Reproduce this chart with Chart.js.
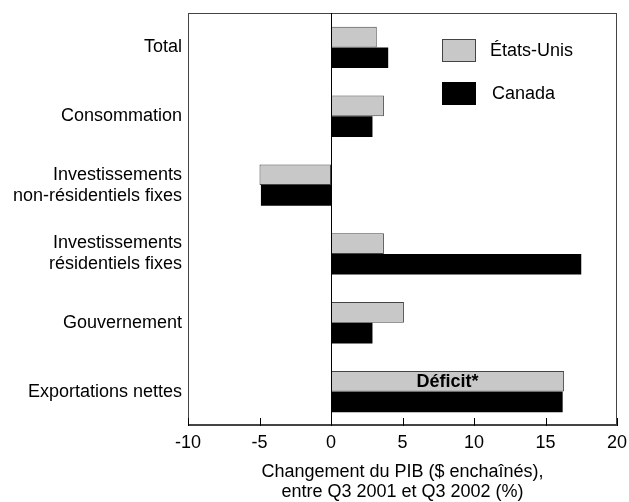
<!DOCTYPE html>
<html>
<head>
<meta charset="utf-8">
<script src="https://cdn.jsdelivr.net/npm/chart.js@4"></script>
<style>
  html, body { margin: 0; padding: 0; background: #fff; }
  #wrap { width: 629px; height: 502px; }
</style>
</head>
<body>
<div id="wrap"><canvas id="myChart"></canvas></div>
<script>
// Données
const categories = [
  'Total',
  'Consommation',
  ['Investissements', 'non-résidentiels fixes'],
  ['Investissements', 'résidentiels fixes'],
  'Gouvernement',
  'Exportations nettes'
];
const etatsUnis = [3.2, 3.7, -5.0, 3.7, 5.1, 16.3];
const canada = [4.0, 2.9, -4.9, 17.5, 2.9, 16.2];
const xTicks = [-10, -5, 0, 5, 10, 15, 20];
const seriesNames = ['États-Unis', 'Canada'];
const noteLabel = 'Déficit*';

const FONT = 'Liberation Sans, Arial, sans-serif';

// Cadre, petites marques de graduation, légende et étiquette "Déficit*"
const decor = {
  id: 'decor',
  afterDraw(chart) {
    const { ctx, chartArea: a, scales } = chart;
    ctx.save();
    ctx.strokeStyle = '#444';
    ctx.lineWidth = 1;
    ctx.strokeRect(a.left + 0.5, a.top + 0.5, a.right - a.left - 1, a.bottom - a.top - 1);
    // axe du bas un peu plus épais
    ctx.fillStyle = '#444';
    ctx.fillRect(a.left, a.bottom - 2, a.right - a.left, 2);
    // marques vers le haut
    ctx.fillStyle = '#000';
    xTicks.forEach(v => {
      const x = Math.round(scales.x.getPixelForValue(v));
      ctx.fillRect(x, a.bottom - 8, 1, 8);
    });
    // ligne du zéro
    const x0 = Math.round(scales.x.getPixelForValue(0));
    ctx.fillRect(x0, a.top, 1, a.bottom - a.top);

    // légende
    const lx = a.left + 254, ly = a.top + 26;
    const colors = [['#c8c8c8', '#444'], ['#000', '#000']];
    ctx.font = '18px ' + FONT;
    ctx.textBaseline = 'middle';
    seriesNames.forEach((name, i) => {
      const y = ly + i * 43;
      ctx.fillStyle = colors[i][0];
      ctx.fillRect(lx, y, 34, 23);
      ctx.strokeStyle = colors[i][1];
      ctx.strokeRect(lx + 0.5, y + 0.5, 33, 22);
      ctx.fillStyle = '#000';
      ctx.fillText(name, lx + 48 + i * 2, y + 12);
    });

    // étiquette dans la barre des exportations (États-Unis)
    const bar = chart.getDatasetMeta(0).data[5];
    const cx = (bar.x + bar.base) / 2;
    ctx.font = 'bold 18px ' + FONT;
    ctx.textAlign = 'center';
    ctx.fillText(noteLabel, cx, bar.y + 1);
    ctx.restore();
  }
};

const ctx = document.getElementById('myChart').getContext('2d');
new Chart(ctx, {
  type: 'bar',
  data: {
    labels: categories,
    datasets: [
      {
        label: seriesNames[0],
        data: etatsUnis,
        backgroundColor: '#c8c8c8',
        borderColor: '#444',
        borderWidth: 1,
        borderSkipped: false,
        categoryPercentage: 0.6,
        barPercentage: 1.0
      },
      {
        label: seriesNames[1],
        data: canada,
        backgroundColor: '#000',
        borderWidth: 0,
        categoryPercentage: 0.6,
        barPercentage: 1.0
      }
    ]
  },
  options: {
    indexAxis: 'y',
    responsive: true,
    maintainAspectRatio: false,
    animation: false,
    layout: { padding: { top: 13, right: 12, left: 0, bottom: 0 } },
    plugins: {
      legend: { display: false },
      tooltip: { enabled: false }
    },
    scales: {
      x: {
        min: -10,
        max: 20,
        afterBuildTicks: s => { s.ticks = xTicks.map(v => ({ value: v })); },
        afterFit: s => { s.height = 76; s.paddingLeft = 0; s.paddingRight = 0; },
        grid: { display: false, drawTicks: false, tickLength: 0 },
        border: { display: false },
        ticks: { color: '#000', padding: 6, font: { family: FONT, size: 18 } },
        title: {
          display: true,
          text: ['Changement du PIB ($ enchaînés),', 'entre Q3 2001 et Q3 2002 (%)'],
          color: '#000',
          font: { family: FONT, size: 18, lineHeight: 1.12 },
          padding: { top: 4, bottom: 0 }
        }
      },
      y: {
        afterFit: s => { s.width = 188; s.paddingTop = 0; s.paddingBottom = 0; },
        grid: { display: false, drawTicks: false, tickLength: 0 },
        border: { display: false },
        ticks: { color: '#000', padding: 6, font: { family: FONT, size: 18, lineHeight: 1.17 } }
      }
    }
  },
  plugins: [decor]
});
</script>
</body>
</html>
